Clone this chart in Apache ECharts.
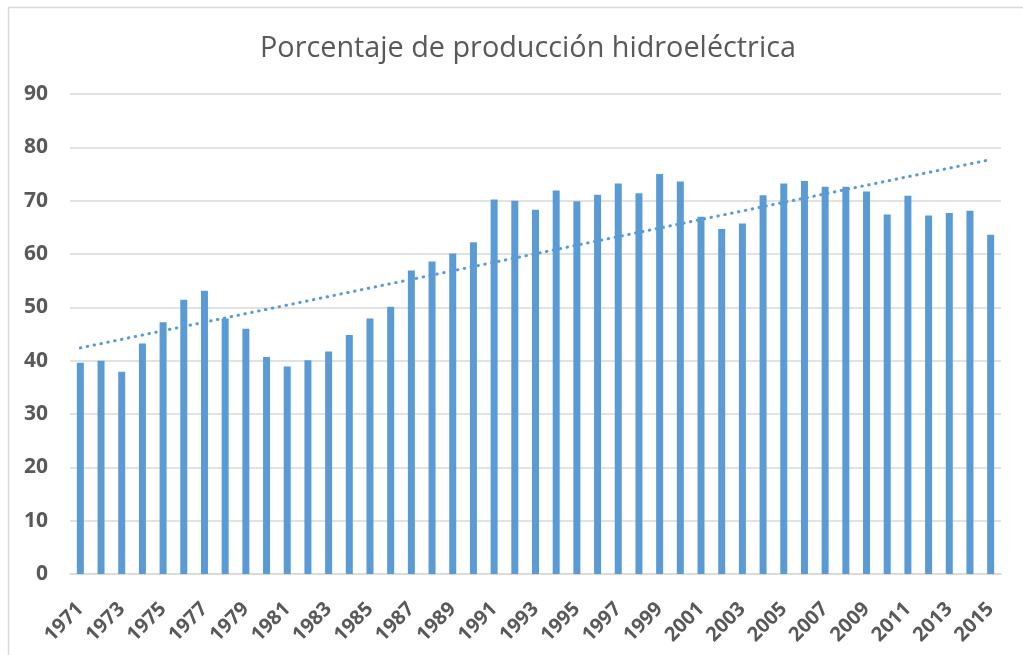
<!DOCTYPE html>
<html><head><meta charset="utf-8">
<script src="https://cdn.jsdelivr.net/npm/echarts@6/dist/echarts.min.js"></script>
<style>html,body{margin:0;padding:0;background:#fff}#c{width:1023px;height:655px}</style>
</head><body><div id="c"></div>
<script>
const years = ['1971','1972','1973','1974','1975','1976','1977','1978','1979','1980','1981','1982','1983','1984','1985','1986','1987','1988','1989','1990','1991','1992','1993','1994','1995','1996','1997','1998','1999','2000','2001','2002','2003','2004','2005','2006','2007','2008','2009','2010','2011','2012','2013','2014','2015'];
const values = [39.6,40.0,37.9,43.2,47.2,51.4,53.1,47.9,46.0,40.7,38.9,40.1,41.7,44.8,47.9,50.1,56.9,58.6,60.1,62.2,70.2,70.0,68.3,71.9,69.9,71.1,73.2,71.4,75.0,73.6,67.0,64.7,65.7,71.0,73.2,73.7,72.6,72.6,71.7,67.4,70.9,67.2,67.7,68.1,63.6];
const trendStart = 42.4;
const trendEnd = 77.7;
const yTicks = [0,10,20,30,40,50,60,70,80,90];
const title = 'Porcentaje de producción hidroeléctrica';

const chart = echarts.init(document.getElementById('c'), null, {renderer:'canvas'});
chart.setOption({
  animation:false,
  backgroundColor:'#fff',
  title:{text:title,left:255,top:29,textStyle:{fontFamily:'Open Sans',fontSize:28.8,fontWeight:'normal',color:'#595959'}},
  graphic:[{type:'rect',shape:{x:8.5,y:7.5,width:1100,height:700},style:{fill:'none',stroke:'#d9d9d9',lineWidth:1.5},silent:true}],
  grid:{left:70,right:22,top:94,bottom:81,containLabel:false},
  xAxis:{type:'category',data:years,
    axisLine:{show:true,lineStyle:{color:'#d9d9d9',width:1.5}},
    axisTick:{show:false},
    axisLabel:{interval:1,rotate:45,fontFamily:'Open Sans',fontWeight:'bold',fontSize:20,color:'#595959',margin:32}},
  yAxis:{type:'value',min:0,max:90,interval:10,
    axisLine:{show:false},axisTick:{show:false},
    splitLine:{lineStyle:{color:'#d9d9d9',width:1.5}},
    axisLabel:{fontFamily:'Open Sans',fontWeight:'bold',fontSize:21,color:'#595959',margin:22,
      formatter:v=>yTicks.includes(v)?String(v):''}},
  series:[{type:'bar',data:values,barWidth:7,itemStyle:{color:'#5b9bd5'},
    markLine:{silent:true,symbol:['none','none'],label:{show:false},
      lineStyle:{color:'#5b9bd5',width:3,type:[0.5,6.5],cap:'round'},
      data:[[{coord:[years[0],trendStart]},{coord:[years[years.length-1],trendEnd]}]]}}]
});
</script></body></html>
